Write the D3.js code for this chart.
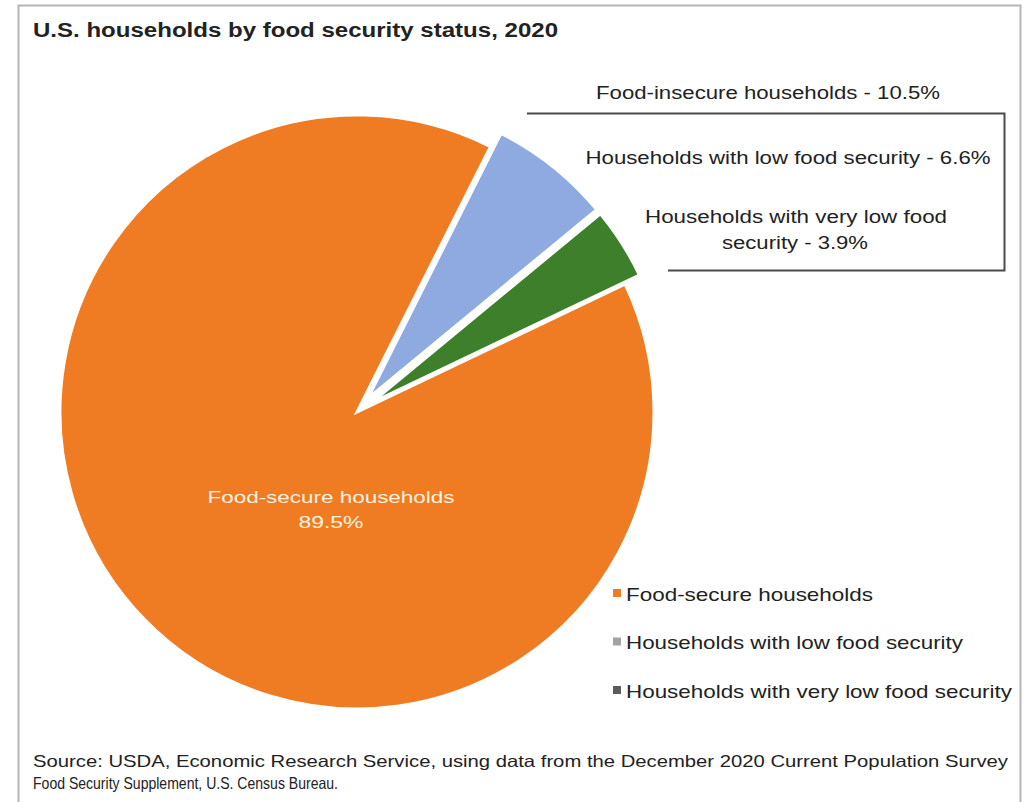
<!DOCTYPE html>
<html>
<head>
<meta charset="utf-8">
<script src="https://cdn.jsdelivr.net/npm/d3@7"></script>
<style>
  body { margin: 0; background: #fff; }
  text { font-family: "Liberation Sans", Arial, sans-serif; }
</style>
</head>
<body>
<svg id="chart" width="1024" height="802"></svg>
<script>
// data
var categories = ["Food-secure households", "Households with low food security", "Households with very low food security"];
var shares = [89.5, 6.6, 3.9];
var sliceColors = ["#ef7b22", "#8eaae0", "#3d7f2b"];
var legendColors = ["#ef7b22", "#a3a3a3", "#5c5c5c"];
var calloutLines = ["Households with low food security - 6.6%", "Households with very low food", "security - 3.9%"];
var calloutTitle = "Food-insecure households - 10.5%";
var sourceLines = ["Source: USDA, Economic Research Service, using data from the December 2020 Current Population Survey",
                   "Food Security Supplement, U.S. Census Bureau."];

var svg = d3.select("#chart");

// the picture's lettering is wider than normal, stretch to the widths seen
function fit(sel, w) {
    sel.attr("textLength", w).attr("lengthAdjust", "spacingAndGlyphs");
    return sel;
}

// frame
svg.append("path")
    .attr("d", "M18.5,802 V5.5 H1020.5 V802")
    .attr("fill", "none").attr("stroke", "#b5b5b5").attr("stroke-width", 2);

fit(svg.append("text").attr("x", 33).attr("y", 37)
    .attr("font-size", 19.5).attr("font-weight", "bold").attr("fill", "#222")
    .text("U.S. households by food security status, 2020"), 525);

// pie
var cx = 357, cy = 412, r = 297;
var start = 64.5 * Math.PI / 180;
var pie = d3.pie().sort(null).startAngle(start).endAngle(start + 2 * Math.PI);
var arcs = pie(shares);
var arc = d3.arc().innerRadius(0).outerRadius(r);
var g = svg.append("g").attr("transform", "translate(" + cx + "," + cy + ")");

g.selectAll("path").data(arcs).enter().append("path")
    .attr("d", arc)
    .attr("fill", function(d, i){ return sliceColors[i]; })
    .attr("stroke", "#fff").attr("stroke-width", 3)
    .attr("transform", function(d, i){
        if (i == 0) return null;
        var mid = (d.startAngle + d.endAngle) / 2;
        var off = 17;
        return "translate(" + (Math.sin(mid) * off) + "," + (-Math.cos(mid) * off) + ")";
    });

// label inside orange slice
svg.append("text").attr("x", 331).attr("y", 503).attr("text-anchor", "middle")
    .attr("font-size", 17).attr("fill", "#fff3e0")
    .call(fit, 247).text("Food-secure households");
svg.append("text").attr("x", 331).attr("y", 528).attr("text-anchor", "middle")
    .attr("font-size", 17).attr("fill", "#fff3e0")
    .call(fit, 65).text(shares[0] + "%");

// callout box
svg.append("path")
    .attr("d", "M527,113.5 H1004.5 V270.5 H668")
    .attr("fill", "none").attr("stroke", "#4a4a4a").attr("stroke-width", 2);

svg.append("text").attr("x", 768).attr("y", 99).attr("text-anchor", "middle")
    .attr("font-size", 18).attr("fill", "#222").call(fit, 344).text(calloutTitle);

var cl = svg.append("g").attr("font-size", 18).attr("fill", "#222").attr("text-anchor", "middle");
cl.append("text").attr("x", 788).attr("y", 164).call(fit, 405).text(calloutLines[0]);
cl.append("text").attr("x", 796).attr("y", 223).call(fit, 302).text(calloutLines[1]);
cl.append("text").attr("x", 795).attr("y", 249).call(fit, 146).text(calloutLines[2]);

// legend
var legendWidths = [247, 337, 386];
var leg = svg.append("g").selectAll("g").data(categories).enter().append("g")
    .attr("transform", function(d, i){ return "translate(613," + (594 + i * 48.5) + ")"; });
leg.append("rect").attr("x", 0).attr("y", -5).attr("width", 8).attr("height", 8)
    .attr("fill", function(d, i){ return legendColors[i]; });
leg.append("text").attr("x", 13).attr("y", 6.5).attr("font-size", 18.5).attr("fill", "#222")
    .attr("textLength", function(d, i){ return legendWidths[i]; })
    .attr("lengthAdjust", "spacingAndGlyphs")
    .text(function(d){ return d; });

// source
var sourceWidths = [975, 305];
svg.append("g").selectAll("text").data(sourceLines).enter().append("text")
    .attr("x", 33).attr("y", function(d, i){ return 767 + i * 22; })
    .attr("font-size", 16.5).attr("fill", "#222")
    .attr("textLength", function(d, i){ return sourceWidths[i]; })
    .attr("lengthAdjust", "spacingAndGlyphs")
    .text(function(d){ return d; });
</script>
</body>
</html>
